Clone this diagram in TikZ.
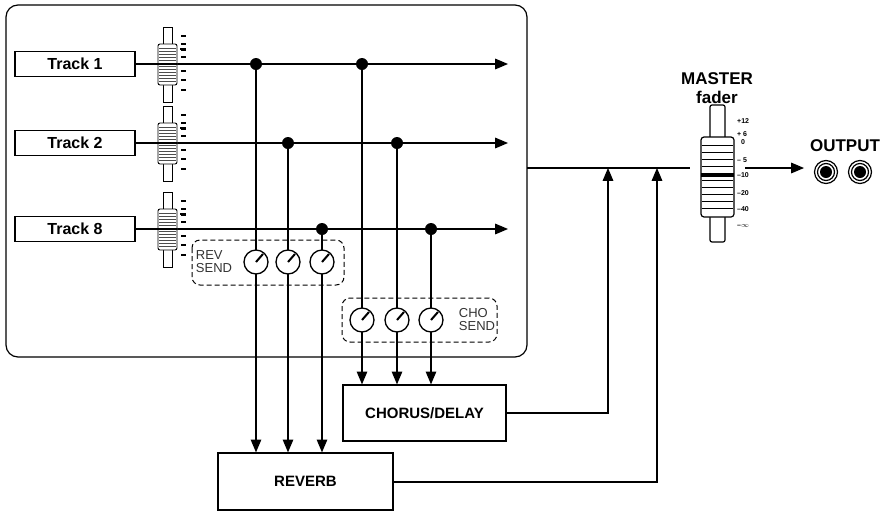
\documentclass[tikz,border=0pt]{standalone}
\usepackage{fontspec}
\setmainfont{Liberation Sans}
\usetikzlibrary{arrows,shapes}
\tikzstyle{track box}=[draw, line width=1.3pt, minimum width=120pt, minimum height=25pt, inner sep=0pt, font=\bfseries\fontsize{16}{16}\selectfont]
\tikzstyle{fx box}=[draw, line width=1.3pt, inner sep=0pt, font=\bfseries\fontsize{15}{15}\selectfont]
\tikzstyle{knob}=[circle, draw, line width=1.3pt, fill=white, minimum size=24pt, inner sep=0pt]
\tikzstyle{junction}=[circle, fill=black, minimum size=12pt, inner sep=0pt]
\tikzstyle{signal}=[draw, line width=2pt]
\tikzstyle{send}=[signal, -triangle 45]
\tikzstyle{send box}=[draw, line width=1pt, dashed, dash pattern=on 5pt off 3pt, rounded corners=8pt]

\begin{document}
\begin{tikzpicture}[x=1pt, y=-1pt]
    \useasboundingbox (0,0) rectangle (884,520);
    % Mixer frame
    \draw[line width=1.2pt, rounded corners=12pt] (6,5) rectangle (527,357);
    % Tracks
    \foreach \y/\name/\txt in {64/T1/Track 1, 143/T2/Track 2, 229/T8/Track 8}
    {
        \node[track box] (\name) at (75,\y) {\txt};
        \coordinate (\name end) at (508,\y);
        \path[send] (\name) -- (\name end);
    }
    % Channel faders
    \foreach \y in {64, 143, 229}
    {
        \draw[fill=white, line width=0.9pt] (163,\y-37) rectangle (172,\y+38);
        \draw[fill=white, line width=0.9pt, rounded corners=2pt] (158,\y-20) rectangle (177,\y+21);
        \foreach \k in {-16,-13,...,17}
            \draw[black!70] (159,\y+\k) -- (176,\y+\k);
        \draw[line width=1.5pt] (158,\y) -- (177,\y);
        \foreach \k in {-28,-20,-14,-7,0,7,16,26}
            \draw[line width=1.5pt] (181,\y+\k) -- (186,\y+\k);
        \draw[line width=2.6pt] (180,\y-15) -- (186,\y-15);
    }
    % Send areas
    \draw[send box] (192,240) rectangle (344,285);
    \node[align=left, inner sep=0pt, font=\fontsize{13}{13}\selectfont, black!80] (revlbl) at (214,262) {REV\\SEND};
    \draw[send box] (342,298) rectangle (497,342);
    \node[align=left, inner sep=0pt, font=\fontsize{13}{13}\selectfont, black!80] (cholbl) at (477,320) {CHO\\SEND};
    % Effect boxes
    \node[fx box, minimum width=175pt, minimum height=57pt] (REV) at (305.5,481.5) {REVERB};
    \node[fx box, minimum width=163pt, minimum height=56pt] (CHO) at (424.5,413) {CHORUS/DELAY};
    % Send lines, knobs and junctions
    \foreach \x/\y/\name/\ky/\fx in {256/64/RK1/262/REV, 288/143/RK2/262/REV, 322/229/RK3/262/REV,
                                     362/64/CK1/320/CHO, 397/143/CK2/320/CHO, 431/229/CK3/320/CHO}
    {
        \node[junction] (J\name) at (\x,\y) {};
        \path[send] (J\name.center) -- (\x,0 |- \fx.north);
        \node[knob] (\name) at (\x,\ky) {};
        \draw[line width=2pt] (\name.center) -- ++(7,-8);
    }
    % Master bus
    \coordinate (bus) at (527,168);
    \coordinate (busA) at (608,168);
    \coordinate (busB) at (657,168);
    \path[signal] (bus) -- (690,168);
    \path[send] (CHO.east) -| (busA);
    \path[send] (REV.east) -| (busB);
    % Master fader
    \node[font=\bfseries\fontsize{17}{19}\selectfont, align=center, inner sep=0pt] (mlbl) at (717,88) {MASTER\\fader};
    \draw[line width=1.2pt, fill=white, rounded corners=2pt] (710,105) rectangle (725,242);
    \draw[line width=1.2pt, fill=white, rounded corners=3pt] (701,137) rectangle (734,217);
    \foreach \k in {145,152,...,212}
        \draw[line width=0.8pt] (702,\k) -- (733,\k);
    \draw[line width=3.5pt] (701,175) -- (734,175);
    \foreach \y/\t in {121/+12, 134/+ 6, 142/\ \ 0, 160/{-- 5}, 175/{--10}, 193/{--20}, 209/{--40}, 226/{--$\infty$}}
        \node[anchor=west, inner sep=0pt, font=\bfseries\fontsize{7}{7}\selectfont] at (737,\y) {\t};
    \coordinate (mout) at (745,168);
    \coordinate (outarrow) at (804,168);
    \path[send] (mout) -- (outarrow);
    % Output jacks
    \node[font=\bfseries\fontsize{17}{17}\selectfont, inner sep=0pt] (outlbl) at (845,146) {OUTPUT};
    \foreach \x/\name in {826/jackL, 860/jackR}
    {
        \node[circle, draw, line width=1.2pt, minimum size=23pt, inner sep=0pt] (\name) at (\x,172) {};
        \node[circle, draw, line width=1.2pt, minimum size=17pt, inner sep=0pt] at (\x,172) {};
        \fill (\x,172) circle (6pt);
    }
\end{tikzpicture}
\end{document}
